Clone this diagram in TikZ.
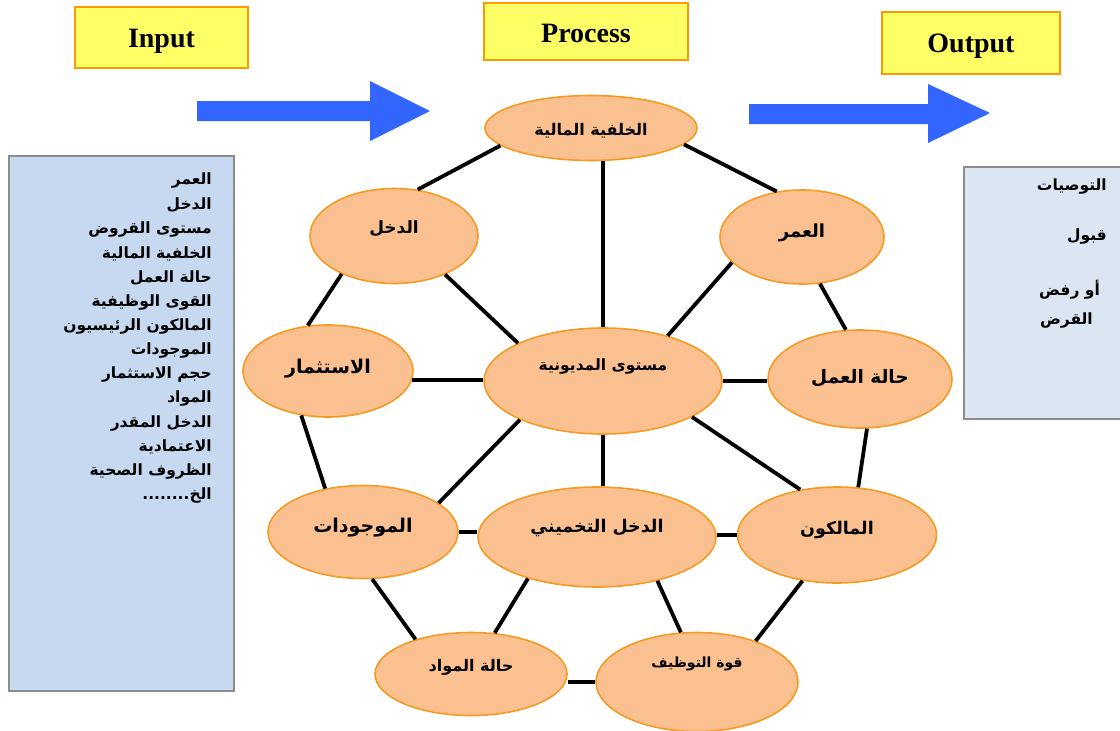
\documentclass[tikz,border=0pt]{standalone}
\usepackage{fontspec}
\setmainfont{Liberation Serif}
\newfontfamily\arabicfont[Script=Arabic]{DejaVu Sans}
\TeXXeTstate=1
\usetikzlibrary{shapes.geometric}
\definecolor{hdrfill}{HTML}{FFFF66}
\definecolor{hdrline}{HTML}{FF9900}
\definecolor{ellfill}{HTML}{FAC090}
\definecolor{ellline}{HTML}{F59A23}
\definecolor{arrowblue}{HTML}{3366FF}
\definecolor{inboxfill}{HTML}{C6D9F1}
\definecolor{outboxfill}{HTML}{DCE6F2}
\definecolor{boxline}{HTML}{8C8C8C}
\newcommand\artext[1]{{\arabicfont\bfseries\beginR #1\endR}}
\newcommand\shiftup[2]{\raisebox{#1}[\height][\depth]{#2}}
\tikzset{
  hdr/.style={draw=hdrline, fill=hdrfill, line width=2pt, inner sep=0pt,
    font=\bfseries\fontsize{28}{32}\selectfont},
  bubble/.style={ellipse, draw=ellline, fill=ellfill, line width=1.6pt, inner sep=0pt},
  link/.style={line width=3.8pt, black},
  bigarrow/.style={fill=arrowblue},
  listbox/.style={draw=boxline, line width=1.5pt, inner sep=0pt, anchor=north west},
  listitem/.style={anchor=east, inner sep=0pt, font=\fontsize{15.5}{18}\selectfont},
}
\begin{document}
\begin{tikzpicture}[x=1pt,y=-1pt]
\useasboundingbox (0,0) rectangle (1120,731);

% header boxes
\node[hdr, minimum width=173pt, minimum height=61pt] (input) at (161.5,37.5) {\shiftup{-4pt}{Input}};
\node[hdr, minimum width=204pt, minimum height=57pt] (process) at (586,31.5) {\shiftup{-2pt}{Process}};
\node[hdr, minimum width=178pt, minimum height=62pt] (output) at (971,43) {\shiftup{-3pt}{Output}};

% big arrows
\fill[bigarrow] (197,101) -- (370,101) -- (370,81) -- (430,111) -- (370,141) -- (370,121) -- (197,121) -- cycle;
\fill[bigarrow] (749,104) -- (928,104) -- (928,84) -- (990,113) -- (928,143) -- (928,124) -- (749,124) -- cycle;

% input list box
\node[listbox, fill=inboxfill, minimum width=225pt, minimum height=535pt] (inbox) at (8,155) {};
\foreach \itm [count=\i from 0] in {العمر,الدخل,مستوى القروض,الخلفية المالية,حالة العمل,القوى الوظيفية,المالكون الرئيسيون,الموجودات,حجم الاستثمار,المواد,الدخل المقدر,الاعتمادية,الظروف الصحية}
  \node[listitem] (in\i) at (212,{181+24.2*\i}) {\artext{\itm}};
\node[listitem] (in13) at (212,{181+24.2*13}) {\artext{الخ........}};

% output box
\node[listbox, fill=outboxfill, minimum width=165pt, minimum height=252pt] (outbox) at (963,166) {};
\node[listitem] (o1) at (1107,187) {\artext{التوصيات}};
\node[listitem] (o2) at (1107,237) {\artext{قبول}};
\node[listitem] (o3) at (1100,290) {\artext{أو رفض}};
\node[listitem] (o4) at (1093,321) {\artext{القرض}};

% bubbles
\node[bubble, minimum width=212pt, minimum height=65pt] (kh) at (591,128) {\fontsize{16}{18}\selectfont\shiftup{-3pt}{\artext{الخلفية المالية}}};
\node[bubble, minimum width=168pt, minimum height=95pt] (dakhl) at (394,236) {\fontsize{17}{18}\selectfont\shiftup{7pt}{\artext{الدخل}}};
\node[bubble, minimum width=164pt, minimum height=94pt] (omr) at (802,237) {\fontsize{18}{20}\selectfont\shiftup{4pt}{\artext{العمر}}};
\node[bubble, minimum width=170pt, minimum height=92pt] (ist) at (328,371) {\fontsize{19}{21}\selectfont\shiftup{2pt}{\artext{الاستثمار}}};
\node[bubble, minimum width=238pt, minimum height=106pt] (mus) at (603,381) {\fontsize{15.5}{17}\selectfont\shiftup{15pt}{\artext{مستوى المديونية}}};
\node[bubble, minimum width=184pt, minimum height=98pt] (amal) at (860,379) {\fontsize{18.5}{20}\selectfont\shiftup{1pt}{\artext{حالة العمل}}};
\node[bubble, minimum width=190pt, minimum height=93pt] (mawj) at (363,532) {\fontsize{19}{21}\selectfont\shiftup{4pt}{\artext{الموجودات}}};
\node[bubble, minimum width=238pt, minimum height=100pt] (takh) at (597,537) {\fontsize{17.5}{20}\selectfont\shiftup{9pt}{\artext{الدخل التخميني}}};
\node[bubble, minimum width=199pt, minimum height=96pt] (malik) at (837,535) {\fontsize{17.5}{20}\selectfont\shiftup{5pt}{\artext{المالكون}}};
\node[bubble, minimum width=192pt, minimum height=83pt] (mawad) at (471,674) {\fontsize{16}{18}\selectfont\shiftup{7pt}{\artext{حالة المواد}}};
\node[bubble, minimum width=202pt, minimum height=99pt] (tawz) at (697,682) {\fontsize{14}{16}\selectfont\shiftup{18pt}{\artext{قوة التوظيف}}};

% links
\draw[link] (kh.191) -- (dakhl.63);
\draw[link] (kh.350) -- (omr.119);
\draw[link] (mus |- kh.south) -- (mus.north);
\draw[link] (dakhl.216) -- (ist.114);
\draw[link] (dakhl.323) -- (mus.156);
\draw[link] (omr.291) -- (amal.106);
\draw[link] (omr.200) -- (mus.35);
\draw[link] (ist.354) -- (ist.354 -| mus.west);
\draw[link] (mus.east) -- (mus.east -| amal.west);
\draw[link] (ist.239) -- (mawj.131);
\draw[link] (amal.278) -- (malik.66);
\draw[link] (mus.205) -- (mawj.21);
\draw[link] (mus.south) -- (mus.south |- takh.north);
\draw[link] (mus.338) -- (malik.129);
\draw[link] (mawj.east) -- (mawj.east -| takh.west);
\draw[link] (malik.west -| takh.east) -- (malik.west);
\draw[link] (mawj.281) -- (mawad.148);
\draw[link] (takh.211) -- (mawad.60);
\draw[link] (takh.324) -- (tawz.108);
\draw[link] (malik.233) -- (tawz.35);
\draw[link] (tawz.west -| mawad.east) -- (tawz.west);
\end{tikzpicture}
\end{document}
